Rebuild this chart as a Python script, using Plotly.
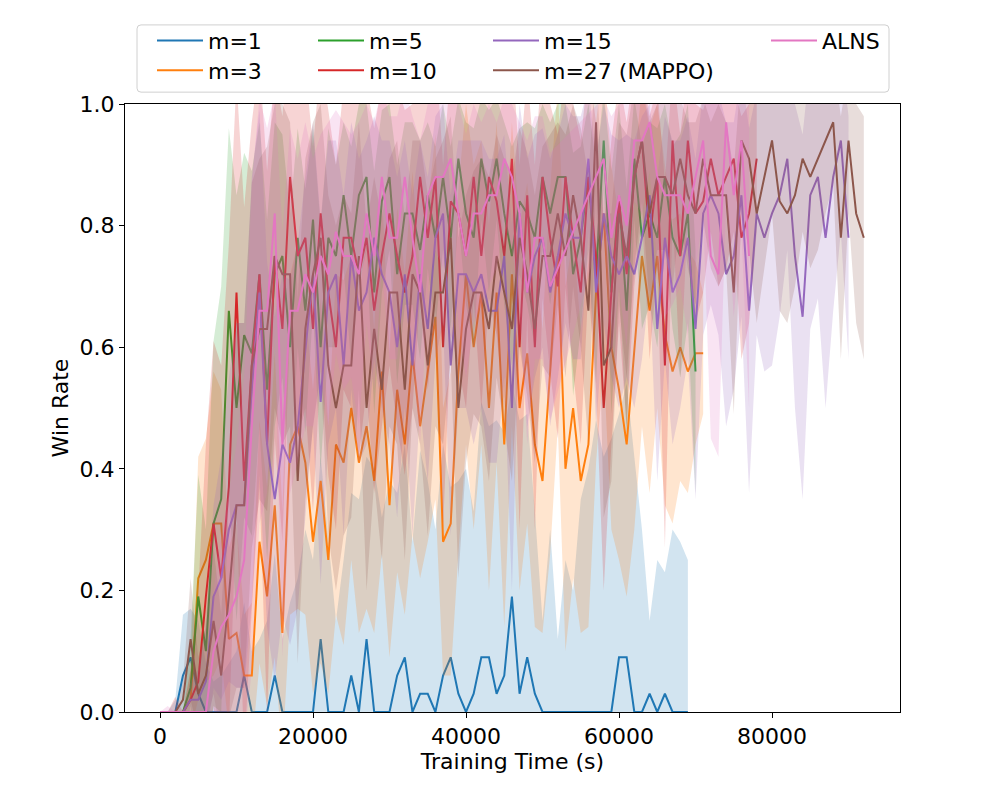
"""Win rate vs training time for different m, mean line with a +/- std band per run group."""
import numpy as np
import plotly.graph_objects as go

STEP = 1000  # seconds between logged evaluations

labels = ["m=1", "m=3", "m=5", "m=10", "m=15", "m=27 (MAPPO)", "ALNS"]
colors = ["#1f77b4", "#ff7f0e", "#2ca02c", "#d62728", "#9467bd", "#8c564b", "#e377c2"]

m1_mean = [0, 0, 0, 0.06, 0.09, 0.03, 0, 0, 0, 0,
           0, 0.06, 0, 0, 0, 0.06, 0, 0, 0, 0,
           0, 0.12, 0, 0, 0, 0.06, 0, 0.12, 0, 0,
           0, 0.06, 0.09, 0, 0.03, 0.03, 0, 0.06, 0.09, 0.03,
           0, 0.03, 0.09, 0.09, 0.03, 0.06, 0.19, 0.03, 0.09, 0.03,
           0, 0, 0, 0, 0, 0, 0, 0, 0, 0,
           0.09, 0.09, 0, 0, 0.03, 0, 0.03, 0, 0, 0]
m1_std = [0, 0, 0.02, 0.1, 0.08, 0.12, 0.08, 0.05, 0.06, 0.08,
          0.1, 0.12, 0.1, 0.12, 0.15, 0.2, 0.12, 0.18, 0.22, 0.3,
          0.25, 0.3, 0.28, 0.15, 0.25, 0.3, 0.35, 0.3, 0.4, 0.32,
          0.38, 0.3, 0.35, 0.28, 0.4, 0.35, 0.3, 0.38, 0.28, 0.35,
          0.4, 0.3, 0.42, 0.38, 0.45, 0.4, 0.35, 0.45, 0.4, 0.3,
          0.15, 0.3, 0.12, 0.25, 0.2, 0.35, 0.4, 0.48, 0.42, 0.45,
          0.4, 0.45, 0.42, 0.3, 0.12, 0.25, 0.2, 0.3, 0.28, 0.25]

m3_mean = [0, 0, 0, 0, 0.02, 0.22, 0.25, 0.31, 0.31, 0.12,
           0.13, 0.06, 0.06, 0.28, 0.19, 0.34, 0.13, 0.44, 0.47, 0.41,
           0.28, 0.38, 0.25, 0.44, 0.41, 0.5, 0.41, 0.47, 0.38, 0.56,
           0.34, 0.53, 0.44, 0.59, 0.47, 0.56, 0.65, 0.28, 0.31, 0.56,
           0.72, 0.6, 0.69, 0.5, 0.69, 0.44, 0.72, 0.5, 0.59, 0.44,
           0.38, 0.56, 0.75, 0.4, 0.5, 0.38, 0.44, 0.69, 0.82, 0.6,
           0.53, 0.44, 0.6, 0.75, 0.66, 0.75, 0.62, 0.56, 0.6, 0.56,
           0.59, 0.59]
m3_std = [0, 0, 0, 0, 0.05, 0.2, 0.2, 0.25, 0.22, 0.15,
          0.18, 0.1, 0.12, 0.2, 0.18, 0.25, 0.2, 0.28, 0.3, 0.25,
          0.25, 0.3, 0.22, 0.28, 0.3, 0.25, 0.28, 0.3, 0.25, 0.3,
          0.25, 0.3, 0.28, 0.3, 0.25, 0.28, 0.3, 0.22, 0.25, 0.3,
          0.28, 0.3, 0.25, 0.3, 0.28, 0.3, 0.25, 0.3, 0.28, 0.3,
          0.25, 0.3, 0.28, 0.3, 0.28, 0.25, 0.3, 0.28, 0.25, 0.3,
          0.28, 0.25, 0.3, 0.28, 0.3, 0.25, 0.28, 0.25, 0.22, 0.2,
          0.15, 0.1]

m5_mean = [0, 0, 0, 0, 0.04, 0.19, 0.1, 0.31, 0.35, 0.66,
           0.5, 0.62, 0.59, 0.72, 0.53, 0.72, 0.75, 0.6, 0.78, 0.66,
           0.81, 0.6, 0.78, 0.75, 0.85, 0.75, 0.85, 0.88, 0.69, 0.84,
           0.88, 0.72, 0.82, 0.82, 0.76, 0.85, 0.78, 0.88, 0.78, 0.91,
           0.82, 0.78, 0.91, 0.84, 0.91, 0.82, 0.75, 0.84, 0.82, 0.78,
           0.88, 0.82, 0.88, 0.88, 0.72, 0.78, 0.88, 0.72, 0.94, 0.69,
           0.85, 0.66, 0.91, 0.78, 0.82, 0.78, 0.88, 0.78, 0.75, 0.82,
           0.56]
m5_std = [0, 0, 0, 0, 0.08, 0.2, 0.2, 0.3, 0.35, 0.3,
          0.35, 0.3, 0.3, 0.25, 0.28, 0.25, 0.2, 0.22, 0.18, 0.2,
          0.15, 0.2, 0.18, 0.15, 0.12, 0.18, 0.15, 0.12, 0.2, 0.15,
          0.12, 0.18, 0.15, 0.15, 0.18, 0.12, 0.15, 0.12, 0.15, 0.1,
          0.15, 0.18, 0.1, 0.15, 0.1, 0.15, 0.18, 0.12, 0.15, 0.18,
          0.12, 0.15, 0.12, 0.12, 0.2, 0.15, 0.12, 0.18, 0.08, 0.2,
          0.15, 0.2, 0.1, 0.15, 0.15, 0.18, 0.12, 0.15, 0.2, 0.18,
          0.2]

m10_mean = [0, 0, 0, 0, 0.02, 0.05, 0.19, 0.31, 0.22, 0.37,
            0.69, 0.38, 0.57, 0.72, 0.44, 0.75, 0.63, 0.88, 0.75, 0.78,
            0.63, 0.82, 0.69, 0.6, 0.78, 0.78, 0.72, 0.78, 0.66, 0.75,
            0.82, 0.75, 0.69, 0.75, 0.88, 0.78, 0.88, 0.6, 0.84, 0.82,
            0.75, 0.88, 0.75, 0.88, 0.84, 0.75, 0.91, 0.6, 0.85, 0.6,
            0.88, 0.78, 0.7, 0.88, 0.78, 0.69, 0.88, 0.75, 0.5, 0.69,
            0.84, 0.72, 0.88, 0.94, 0.78, 0.88, 0.57, 0.94, 0.75, 0.94,
            0.82, 0.84, 0.91, 0.85, 0.88, 0.91, 0.78, 0.82, 0.91]
m10_std = [0, 0, 0.025, 0, 0.05, 0.15, 0.25, 0.3, 0.35, 0.4,
           0.35, 0.45, 0.4, 0.35, 0.45, 0.3, 0.35, 0.25, 0.3, 0.28,
           0.3, 0.25, 0.3, 0.3, 0.25, 0.28, 0.3, 0.25, 0.3, 0.28,
           0.25, 0.28, 0.3, 0.25, 0.2, 0.25, 0.22, 0.3, 0.22, 0.25,
           0.25, 0.2, 0.25, 0.2, 0.22, 0.25, 0.18, 0.3, 0.2, 0.3,
           0.2, 0.22, 0.25, 0.18, 0.22, 0.25, 0.18, 0.22, 0.3, 0.25,
           0.2, 0.25, 0.18, 0.12, 0.2, 0.15, 0.3, 0.12, 0.2, 0.12,
           0.18, 0.15, 0.12, 0.15, 0.15, 0.12, 0.2, 0.18, 0.12]

m15_mean = [0, 0, 0, 0, 0.02, 0.02, 0.05, 0.19, 0.22, 0.3,
            0.34, 0.34, 0.53, 0.69, 0.44, 0.35, 0.44, 0.41, 0.47, 0.6,
            0.72, 0.51, 0.69, 0.72, 0.57, 0.75, 0.66, 0.69, 0.78, 0.72,
            0.69, 0.6, 0.72, 0.57, 0.72, 0.63, 0.78, 0.82, 0.57, 0.72,
            0.72, 0.69, 0.72, 0.66, 0.66, 0.75, 0.5, 0.82, 0.69, 0.75,
            0.78, 0.69, 0.75, 0.82, 0.78, 0.78, 0.91, 0.69, 0.82, 0.75,
            0.72, 0.75, 0.72, 0.78, 0.85, 0.63, 0.78, 0.69, 0.72, 0.78,
            0.63, 0.82, 0.85, 0.82, 0.72, 0.75, 0.85, 0.66, 0.82, 0.78,
            0.82, 0.85, 0.91, 0.75, 0.65, 0.85, 0.88, 0.78, 0.88, 0.94,
            0.78]
m15_std = [0, 0, 0, 0, 0.03, 0.05, 0.1, 0.15, 0.2, 0.25,
           0.3, 0.3, 0.35, 0.3, 0.3, 0.3, 0.28, 0.3, 0.3, 0.28,
           0.25, 0.3, 0.25, 0.22, 0.28, 0.22, 0.25, 0.25, 0.2, 0.22,
           0.25, 0.28, 0.22, 0.28, 0.22, 0.25, 0.2, 0.18, 0.28, 0.22,
           0.22, 0.25, 0.22, 0.25, 0.25, 0.2, 0.3, 0.18, 0.22, 0.2,
           0.18, 0.22, 0.2, 0.18, 0.2, 0.2, 0.12, 0.22, 0.18, 0.2,
           0.22, 0.2, 0.22, 0.2, 0.15, 0.25, 0.2, 0.25, 0.22, 0.2,
           0.28, 0.2, 0.18, 0.2, 0.25, 0.22, 0.2, 0.3, 0.2, 0.22,
           0.25, 0.2, 0.15, 0.25, 0.3, 0.22, 0.2, 0.28, 0.22, 0.15,
           0.2]

m27_mean = [0, 0, 0, 0.02, 0.12, 0.03, 0.06, 0.15, 0.06, 0.19,
            0.34, 0.34, 0.57, 0.63, 0.63, 0.75, 0.72, 0.72, 0.38, 0.63,
            0.72, 0.78, 0.57, 0.5, 0.57, 0.57, 0.75, 0.5, 0.63, 0.53,
            0.69, 0.69, 0.53, 0.72, 0.69, 0.57, 0.69, 0.69, 0.78, 0.5,
            0.63, 0.69, 0.69, 0.63, 0.75, 0.69, 0.63, 0.78, 0.72, 0.63,
            0.75, 0.75, 0.82, 0.75, 0.85, 0.78, 0.66, 0.97, 0.57, 0.6,
            0.82, 0.75, 0.88, 0.94, 0.82, 0.88, 0.88, 0.85, 0.91, 0.85,
            0.82, 0.91, 0.85, 0.85, 0.85, 0.69, 0.94, 0.91, 0.82, 0.88,
            0.94, 0.84, 0.82, 0.85, 0.91, 0.88, 0.91, 0.94, 0.97, 0.78,
            0.94, 0.82, 0.78]
m27_std = [0, 0, 0, 0.03, 0.1, 0.06, 0.08, 0.12, 0.1, 0.2,
           0.3, 0.3, 0.3, 0.28, 0.3, 0.25, 0.28, 0.25, 0.3, 0.28,
           0.25, 0.22, 0.28, 0.3, 0.28, 0.25, 0.22, 0.3, 0.25, 0.28,
           0.22, 0.25, 0.28, 0.22, 0.25, 0.28, 0.22, 0.25, 0.2, 0.28,
           0.22, 0.2, 0.22, 0.25, 0.2, 0.22, 0.25, 0.18, 0.2, 0.22,
           0.18, 0.2, 0.15, 0.2, 0.15, 0.18, 0.22, 0.1, 0.25, 0.22,
           0.15, 0.2, 0.15, 0.1, 0.15, 0.12, 0.12, 0.15, 0.1, 0.12,
           0.15, 0.1, 0.12, 0.15, 0.12, 0.2, 0.12, 0.15, 0.18, 0.15,
           0.12, 0.18, 0.18, 0.15, 0.12, 0.15, 0.15, 0.12, 0.1, 0.2,
           0.12, 0.18, 0.2]

# ALNS has a hole in its log between ~52k and ~57k s
alns_mean = [0, 0, 0, 0, 0, 0, 0, 0.1, 0.14, 0.16,
             0.19, 0.25, 0.47, 0.66, 0.66, 0.82, 0.44, 0.66, 0.66, 0.72,
             0.69, 0.75, 0.72, 0.79, 0.75, 0.75, 0.72, 0.82, 0.75, 0.88,
             0.78, 0.78, 0.88, 0.78, 0.69, 0.85, 0.88, 0.88, 0.91, 0.82,
             0.75, 0.82, 0.82, 0.85, 0.85, 0.91, 0.88, 0.82, 0.69, 0.78,
             0.78, 0.7, None, None, None, None, None, None, 0.91, 0.78,
             0.85, 0.8, 0.94, 0.94, 0.97, 0.88, 0.85, 0.85, 0.85, 0.82,
             0.88, 0.94, 0.75, 0.72, 0.97, 0.85, 0.94, 0.75]
alns_std = [0, 0.01, 0, 0, 0, 0, 0, 0.1, 0.15, 0.2,
            0.25, 0.3, 0.4, 0.35, 0.3, 0.2, 0.35, 0.3, 0.25, 0.25,
            0.22, 0.2, 0.25, 0.2, 0.22, 0.2, 0.25, 0.18, 0.22, 0.15,
            0.2, 0.2, 0.15, 0.2, 0.25, 0.15, 0.12, 0.15, 0.1, 0.18,
            0.2, 0.18, 0.15, 0.15, 0.12, 0.1, 0.12, 0.15, 0.25, 0.2,
            0.2, 0.22, None, None, None, None, None, None, 0.1, 0.2,
            0.15, 0.2, 0.1, 0.12, 0.08, 0.15, 0.2, 0.18, 0.15, 0.2,
            0.15, 0.12, 0.3, 0.3, 0.12, 0.2, 0.15, 0.25]

x_ticks = [0, 20000, 40000, 60000, 80000]
x_ticktext = ["0", "20000", "40000", "60000", "80000"]
y_ticks = [0, 0.2, 0.4, 0.6, 0.8, 1.0]
y_ticktext = ["0.0", "0.2", "0.4", "0.6", "0.8", "1.0"]

means = [m1_mean, m3_mean, m5_mean, m10_mean, m15_mean, m27_mean, alns_mean]
stds = [m1_std, m3_std, m5_std, m10_std, m15_std, m27_std, alns_std]

FONT = "DejaVu Sans"
FS = 22
W, H = 1000, 800
L, R, T, B = 117, 108, 89, 96   # page body adds an 8px offset
PW, PH = W - L - R, H - T - B
OFF = 8


def rgba(hx, a):
    h = hx.lstrip("#")
    return f"rgba({int(h[0:2], 16)},{int(h[2:4], 16)},{int(h[4:6], 16)},{a})"


def px2paper(px, py):
    # screen pixel -> paper coords
    return (px - OFF - L) / PW, (H - B - (py - OFF)) / PH


# matplotlib-style 4 column legend (column-major): one plotly legend per entry
leg_slots = [(0, 0), (0, 1), (1, 0), (1, 1), (2, 0), (2, 1), (3, 0)]
col_px = [152, 313, 488, 766]
row_px = [33, 63]

fig = go.Figure()
layout_legends = {}
for i, (name, col, mean, std) in enumerate(zip(labels, colors, means, stds)):
    t = [k * STEP for k, v in enumerate(mean) if v is not None]
    mu = np.array([v for v in mean if v is not None], dtype=float)
    sd = np.array([s for s in std if s is not None], dtype=float)
    lo, hi = mu - sd, mu + sd
    fig.add_trace(go.Scatter(x=t + t[::-1], y=list(hi) + list(lo[::-1]), fill="toself",
                             fillcolor=rgba(col, 0.2), line=dict(width=0), mode="lines",
                             hoverinfo="skip", showlegend=False))
    lid = "legend" if i == 0 else f"legend{i + 1}"
    fig.add_trace(go.Scatter(x=t, y=mu, mode="lines", name=name, legend=lid,
                             line=dict(color=col, width=2)))
    c, r = leg_slots[i]
    lx, ly = px2paper(col_px[c], row_px[r])
    layout_legends[lid] = dict(x=lx, y=ly, xanchor="left", yanchor="middle",
                               bgcolor="rgba(0,0,0,0)", borderwidth=0, itemwidth=46,
                               font=dict(family=FONT, size=FS, color="black"))

# rounded legend frame
x0, y1 = px2paper(137, 17)
x1, y0 = px2paper(889, 85)
rx, ry = 4 / PW, 4 / PH
frame = (f"M{x0 + rx},{y0} L{x1 - rx},{y0} Q{x1},{y0} {x1},{y0 + ry} "
         f"L{x1},{y1 - ry} Q{x1},{y1} {x1 - rx},{y1} L{x0 + rx},{y1} "
         f"Q{x0},{y1} {x0},{y1 - ry} L{x0},{y0 + ry} Q{x0},{y0} {x0 + rx},{y0} Z")

axis_common = dict(showgrid=False, zeroline=False, showline=True, linecolor="black",
                   linewidth=1, mirror=True, ticks="outside", ticklen=5, tickwidth=1,
                   tickcolor="black", tickfont=dict(family=FONT, size=FS, color="black"))

fig.update_layout(
    width=W, height=H, margin=dict(l=L, r=R, t=T, b=B),
    paper_bgcolor="white", plot_bgcolor="white",
    font=dict(family=FONT, size=FS, color="black"),
    shapes=[dict(type="path", path=frame, xref="paper", yref="paper",
                 line=dict(color="#d0d0d0", width=1), fillcolor="rgba(255,255,255,0.8)",
                 layer="below")],
    xaxis=dict(range=[-4575, 96730], tickmode="array", tickvals=x_ticks, ticktext=x_ticktext,
               title=dict(text="Training Time (s)", standoff=0,
                          font=dict(family=FONT, size=FS, color="black")),
               **axis_common),
    yaxis=dict(range=[0, 1], tickmode="array", tickvals=y_ticks, ticktext=y_ticktext,
               title=dict(text="Win Rate", standoff=4,
                          font=dict(family=FONT, size=FS, color="black")),
               **axis_common),
    **layout_legends,
)

fig.write_html("out.html")
